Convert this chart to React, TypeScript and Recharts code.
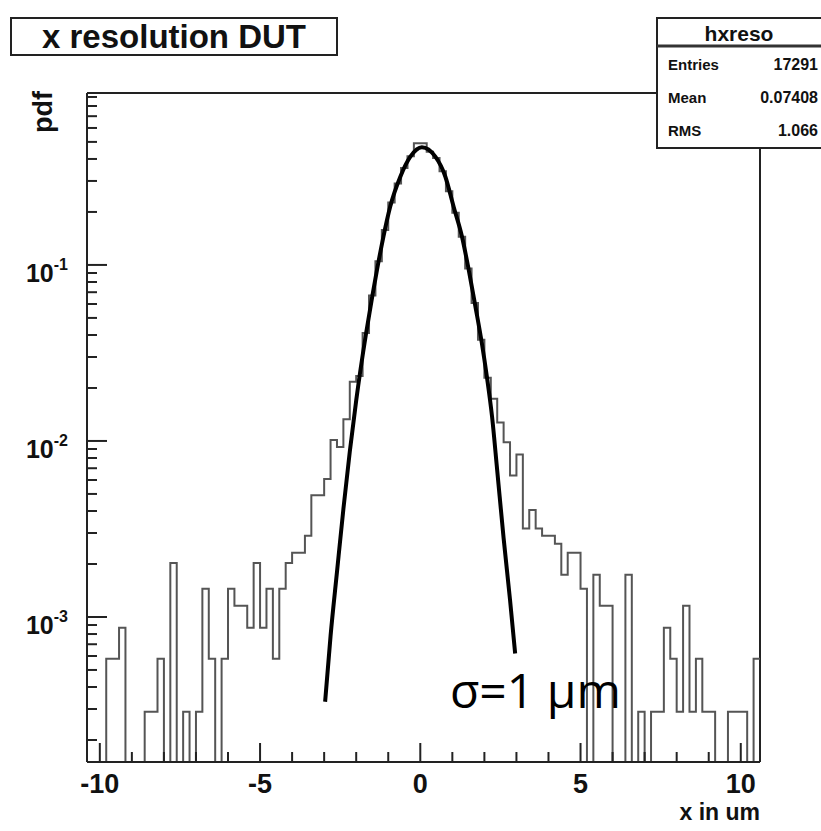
import { Line, LineChart, ReferenceLine, XAxis, YAxis } from "recharts";

const FONT = "'Liberation Sans', Arial, Helvetica, sans-serif";

const ENTRIES = 17291;
const BIN_LOW = -10.4;
const BIN_WIDTH = 0.2;
const X_DOMAIN: [number, number] = [-10.4, 10.6];
const Y_DOMAIN: [number, number] = [1.5e-4, 0.948];
// empty bins are pushed under the frame so the outline drops to the axis, as ROOT draws them
const EMPTY_BIN = 1e-5;

// entries per 0.2 um bin, left to right
const leftTailCounts = [
  0, 0, 0, 2, 2, 3, 0, 0, 0, 1, 1, 2, 0, 7, 0, 1, 0, 1, 5, 2, 0, 2, 5, 4, 4, 3, 7, 3, 5, 2, 5, 7, 8, 8, 10, 17, 17,
  21, 35, 32, 46, 75,
];
const coreCounts = [81, 142, 232, 363, 546, 782, 1003, 1228, 1435, 1700, 1700, 1522, 1400, 1176, 906, 685, 500, 330, 210, 130];
const rightTailCounts = [
  79, 60, 44, 34, 22, 29, 11, 14, 11, 10, 10, 9, 6, 8, 8, 5, 0, 6, 4, 4, 0, 0, 6, 0, 1, 0, 1, 1, 3, 2, 1, 4, 1, 2, 1, 1,
  0, 0, 1, 1, 1, 0, 2,
];

// gaussian fit, points
const fitX = [-2.97, -2.8, -2.6, -2.4, -2.2, -2.0, -1.7, -1.5, -1.35, -1.15, -0.94, -0.62, -0.31, 0.05, 0.47, 0.78, 1.04, 1.3, 1.51, 1.72, 1.92, 2.08, 2.24, 2.4, 2.6, 2.8, 2.96];
const fitPdf = [
  3.3e-4, 7.8e-4, 1.8e-3, 4.1e-3, 8.7e-3, 0.017, 0.04, 0.066, 0.094, 0.145, 0.214, 0.318, 0.412, 0.466, 0.412, 0.318,
  0.214, 0.145, 0.094, 0.058, 0.036, 0.023, 0.0137, 6.8e-3, 2.8e-3, 1.25e-3, 6.2e-4,
];

const xTicks = [-10, -9, -8, -7, -6, -5, -4, -3, -2, -1, 0, 1, 2, 3, 4, 5, 6, 7, 8, 9, 10];
const xLabelTicks = [-10, -5, 0, 5, 10];
const yDecades = [1e-4, 1e-3, 1e-2, 1e-1];
const yLabelTicks = [1e-3, 1e-2, 1e-1];
const yMinorSteps = [2, 3, 4, 5, 6, 7, 8, 9];

const statRows = [
  { label: "Entries", value: "17291" },
  { label: "Mean", value: "0.07408" },
  { label: "RMS", value: "1.066" },
];

const counts = [...leftTailCounts, ...coreCounts, ...rightTailCounts];
const norm = ENTRIES * BIN_WIDTH;
const histData = counts.map((c, i) => ({
  x: BIN_LOW + i * BIN_WIDTH,
  y: c > 0 ? c / norm : EMPTY_BIN,
}));
histData.push({ x: BIN_LOW + counts.length * BIN_WIDTH, y: histData[histData.length - 1].y });

const fitData = fitX.map((x, i) => ({ x, y: fitPdf[i] }));

const yTicks = yDecades
  .flatMap((d) => [d, ...yMinorSteps.map((m) => d * m)])
  .filter((v) => v >= Y_DOMAIN[0] && v <= Y_DOMAIN[1]);

function XTick(props: any) {
  const { x, y, payload } = props;
  const major = xLabelTicks.includes(payload.value);
  return (
    <g>
      <line x1={x} x2={x} y1={y} y2={y - (major ? 19 : 10)} stroke="#222" strokeWidth={2} />
      {major && (
        <text x={x} y={y + 31} textAnchor="middle" fontFamily={FONT} fontWeight="bold" fontSize={27} fill="#111">
          {payload.value}
        </text>
      )}
    </g>
  );
}

function YTick(props: any) {
  const { x, y, payload } = props;
  const v = payload.value;
  const major = yLabelTicks.some((t) => Math.abs(t - v) / t < 1e-6);
  const exp = Math.round(Math.log10(v));
  return (
    <g>
      <line x1={x} x2={x + (major ? 20 : 10)} y1={y} y2={y} stroke="#222" strokeWidth={2} />
      {major && (
        <text x={x - 19} y={y + 17} textAnchor="end" fontFamily={FONT} fontWeight="bold" fontSize={25} fill="#111">
          10
          <tspan dy={-12} fontSize={16}>
            {exp}
          </tspan>
        </text>
      )}
    </g>
  );
}

export default function App() {
  return (
    <div style={{ position: "absolute", left: 0, top: 0, width: 821, height: 831, background: "#fff" }}>
      <LineChart width={821} height={831} margin={{ top: 93, right: 61, bottom: 0, left: 0 }}>
        <XAxis
          type="number"
          dataKey="x"
          domain={X_DOMAIN}
          allowDataOverflow
          ticks={xTicks}
          interval={0}
          height={69}
          tickSize={0}
          tickMargin={0}
          tickLine={false}
          axisLine={{ stroke: "#222", strokeWidth: 2 }}
          tick={<XTick />}
        />
        <YAxis
          type="number"
          dataKey="y"
          scale="log"
          domain={Y_DOMAIN}
          allowDataOverflow
          ticks={yTicks}
          interval={0}
          width={87}
          tickSize={0}
          tickMargin={0}
          tickLine={false}
          axisLine={{ stroke: "#222", strokeWidth: 2 }}
          tick={<YTick />}
        />
        <ReferenceLine y={Y_DOMAIN[1]} stroke="#222" strokeWidth={2} />
        <ReferenceLine x={X_DOMAIN[1]} stroke="#222" strokeWidth={2} />
        <Line
          data={histData}
          dataKey="y"
          type="stepAfter"
          stroke="#555"
          strokeWidth={2}
          dot={false}
          isAnimationActive={false}
        />
        <Line
          data={fitData}
          dataKey="y"
          type="monotone"
          stroke="#000"
          strokeWidth={4}
          dot={false}
          isAnimationActive={false}
        />
      </LineChart>

      <svg width={821} height={831} style={{ position: "absolute", left: 0, top: 0, pointerEvents: "none" }}>
        <rect x={11} y={18} width={326} height={37} fill="#fff" stroke="#222" strokeWidth={2} />
        <text x={174} y={48} textAnchor="middle" fontFamily={FONT} fontWeight="bold" fontSize={33} fill="#111">
          x resolution DUT
        </text>

        <rect x={657} y={18} width={170} height={130} fill="#fff" stroke="#222" strokeWidth={2} />
        <line x1={657} x2={821} y1={46} y2={46} stroke="#333" strokeWidth={3} />
        <text x={739} y={41} textAnchor="middle" fontFamily={FONT} fontWeight="bold" fontSize={21} fill="#111">
          hxreso
        </text>
        {statRows.map((r, i) => (
          <g key={r.label}>
            <text x={668} y={70 + i * 33} fontFamily={FONT} fontWeight="bold" fontSize={15} fill="#111">
              {r.label}
            </text>
            <text x={818} y={70 + i * 33} textAnchor="end" fontFamily={FONT} fontWeight="bold" fontSize={16} fill="#111">
              {r.value}
            </text>
          </g>
        ))}

        <text transform="translate(52,112) rotate(-90)" textAnchor="middle" fontFamily={FONT} fontWeight="bold" fontSize={27} fill="#111">
          pdf
        </text>
        <text x={760} y={820} textAnchor="end" fontFamily={FONT} fontWeight="bold" fontSize={23} fill="#111">
          x in um
        </text>
        <text x={450} y={708} fontFamily="'Open Sans', 'Noto Sans', sans-serif" fontSize={48} fill="#000">
          σ=1 μm
        </text>
      </svg>
    </div>
  );
}
